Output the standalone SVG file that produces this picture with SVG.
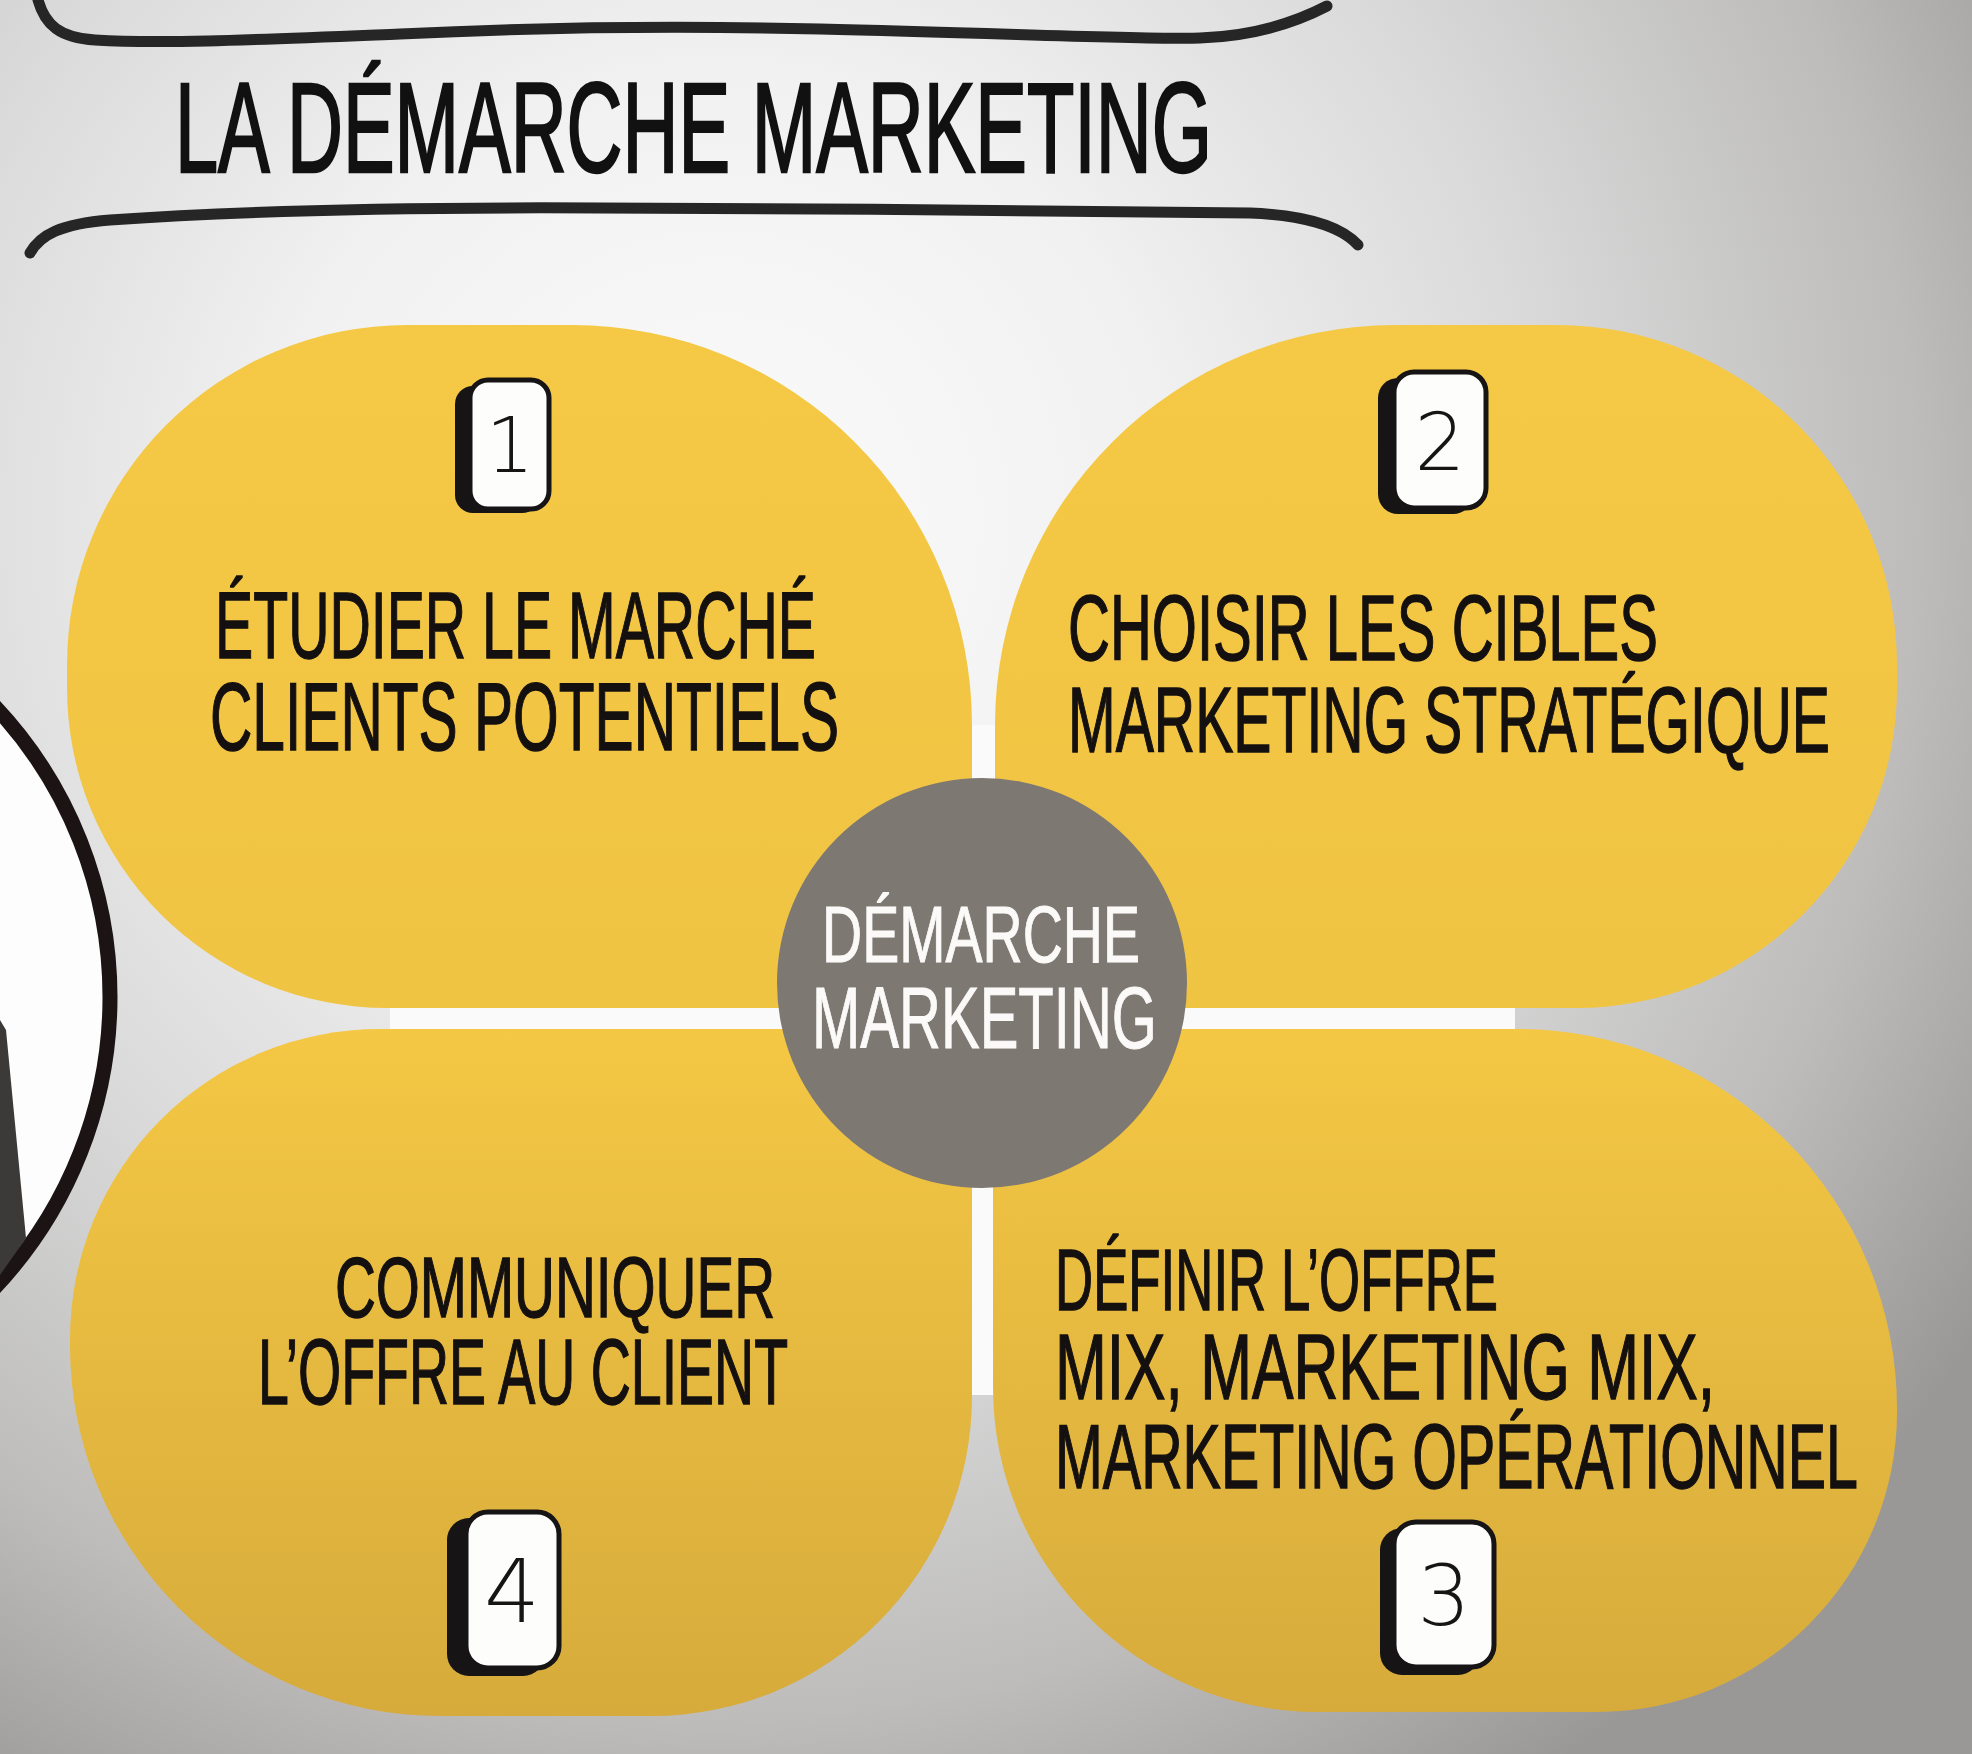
<svg xmlns="http://www.w3.org/2000/svg" width="1972" height="1754" viewBox="0 0 1972 1754">
<defs>
<radialGradient id="bg" gradientUnits="userSpaceOnUse" cx="720" cy="520" r="1500">
<stop offset="0" stop-color="#fbfbfb"/>
<stop offset="0.3" stop-color="#f1f1f1"/>
<stop offset="0.55" stop-color="#dadada"/>
<stop offset="0.8" stop-color="#bdbcbb"/>
<stop offset="1" stop-color="#9a9896"/>
</radialGradient>
<linearGradient id="petalTop" x1="0" y1="0" x2="0" y2="1">
<stop offset="0" stop-color="#f5c945"/>
<stop offset="1" stop-color="#f0c443"/>
</linearGradient>
<linearGradient id="petalBot" x1="0" y1="0" x2="0" y2="1">
<stop offset="0" stop-color="#f4c744"/>
<stop offset="1" stop-color="#d6ab3b"/>
</linearGradient>
<style>
.petal-t{fill:url(#petalTop)}
.petal-b{fill:url(#petalBot)}
.lbl{font-family:"Liberation Sans","DejaVu Sans",sans-serif;fill:#141010;stroke:#141010;stroke-width:1.4;}
.ttl{font-family:"Liberation Sans","DejaVu Sans",sans-serif;fill:#111;stroke:#111;stroke-width:2.5;}
.ctr{font-family:"Liberation Sans","DejaVu Sans",sans-serif;fill:#fbfaf8;stroke:#fbfaf8;stroke-width:1;}
.shadow{fill:#161414}
.card{fill:#fdfdfc;stroke:#161414;stroke-width:5}
.digit{font-family:"DejaVu Sans","Liberation Sans",sans-serif;font-weight:300;fill:#161414;text-anchor:middle}
.brush{fill:none;stroke:#262626;stroke-width:11;stroke-linecap:round;stroke-linejoin:round}
.gap{fill:#fafafa}
</style>
</defs>
<rect width="1972" height="1754" fill="url(#bg)"/>

<g id="decor">
<path class="brush" d="M38,0 C45,25 60,38 95,40 C160,44 250,40 400,34 C520,28 650,25 820,29 C1000,33 1150,40 1200,38 C1260,36 1300,20 1327,6"/>
<path class="brush" d="M30,253 C40,235 60,224 110,220 C250,210 400,207 600,208 C800,209 1100,210 1250,213 C1300,215 1340,225 1358,245"/>
<circle cx="-314" cy="997" r="424" fill="#fdfdfd" stroke="#1c1414" stroke-width="15"/>
<polygon points="0,1020 6,1030 26,1238 0,1275" fill="#3c3a38"/>
</g>

<g id="title">
<text class="ttl" x="175" y="172" font-size="128" textLength="1037" lengthAdjust="spacingAndGlyphs">LA DÉMARCHE MARKETING</text>
</g>

<g id="gaps">
<rect class="gap" x="970" y="725" width="27" height="670"/>
<rect class="gap" x="390" y="1006" width="1125" height="25"/>
</g>

<g id="step1">
<path class="petal-t" d="M407,325 H572 A400,400 0 0 1 972,725 V1008 H387 A320,320 0 0 1 67,688 V665 A340,340 0 0 1 407,325 Z"/>
<rect class="shadow" x="455" y="386" width="85" height="127" rx="18"/>
<rect class="card" x="470" y="380" width="79" height="129" rx="18"/>
<text class="digit" x="510" y="472" font-size="76">1</text>
<text class="lbl" x="215" y="658" font-size="95" textLength="601" lengthAdjust="spacingAndGlyphs">ÉTUDIER LE MARCHÉ</text>
<text class="lbl" x="210" y="750" font-size="97" textLength="629" lengthAdjust="spacingAndGlyphs">CLIENTS POTENTIELS</text>
</g>

<g id="step2">
<path class="petal-t" d="M1395,325 H1557 A340,340 0 0 1 1897,665 V688 A320,320 0 0 1 1577,1008 H995 V725 A400,400 0 0 1 1395,325 Z"/>
<rect class="shadow" x="1378" y="378" width="95" height="136" rx="20"/>
<rect class="card" x="1394" y="372" width="92" height="136" rx="20"/>
<text class="digit" x="1440" y="470" font-size="80">2</text>
<text class="lbl" x="1068" y="660" font-size="93" textLength="590" lengthAdjust="spacingAndGlyphs">CHOISIR LES CIBLES</text>
<text class="lbl" x="1068" y="752" font-size="93" textLength="762" lengthAdjust="spacingAndGlyphs">MARKETING STRATÉGIQUE</text>
</g>

<g id="step3">
<path class="petal-b" d="M993,1029 H1517 A380,380 0 0 1 1897,1409 V1412 A300,300 0 0 1 1597,1712 H1318 A325,325 0 0 1 993,1387 Z"/>
<rect class="shadow" x="1380" y="1528" width="100" height="147" rx="22"/>
<rect class="card" x="1394" y="1522" width="100" height="145" rx="22"/>
<text class="digit" x="1444" y="1625" font-size="84">3</text>
<text class="lbl" x="1055" y="1310" font-size="87" textLength="443" lengthAdjust="spacingAndGlyphs">DÉFINIR L’OFFRE</text>
<text class="lbl" x="1055" y="1399" font-size="93" textLength="660" lengthAdjust="spacingAndGlyphs">MIX, MARKETING MIX,</text>
<text class="lbl" x="1055" y="1488" font-size="90" textLength="803" lengthAdjust="spacingAndGlyphs">MARKETING OPÉRATIONNEL</text>
</g>

<g id="step4">
<path class="petal-b" d="M380,1029 H972 V1396 A320,320 0 0 1 652,1716 H440 A370,370 0 0 1 70,1346 V1339 A310,310 0 0 1 380,1029 Z"/>
<rect class="shadow" x="447" y="1518" width="98" height="158" rx="22"/>
<rect class="card" x="466" y="1512" width="93" height="156" rx="22"/>
<text class="digit" x="512" y="1622" font-size="88">4</text>
<text class="lbl" x="335" y="1317" font-size="86" textLength="440" lengthAdjust="spacingAndGlyphs">COMMUNIQUER</text>
<text class="lbl" x="258" y="1404" font-size="93" textLength="530" lengthAdjust="spacingAndGlyphs">L’OFFRE AU CLIENT</text>
</g>

<g id="center">
<circle cx="982" cy="983" r="205" fill="#7e7873"/>
<text class="ctr" x="822" y="962" font-size="80" textLength="318" lengthAdjust="spacingAndGlyphs">DÉMARCHE</text>
<text class="ctr" x="812" y="1048" font-size="88" textLength="345" lengthAdjust="spacingAndGlyphs">MARKETING</text>
</g>

<g id="connectors"></g>
</svg>
